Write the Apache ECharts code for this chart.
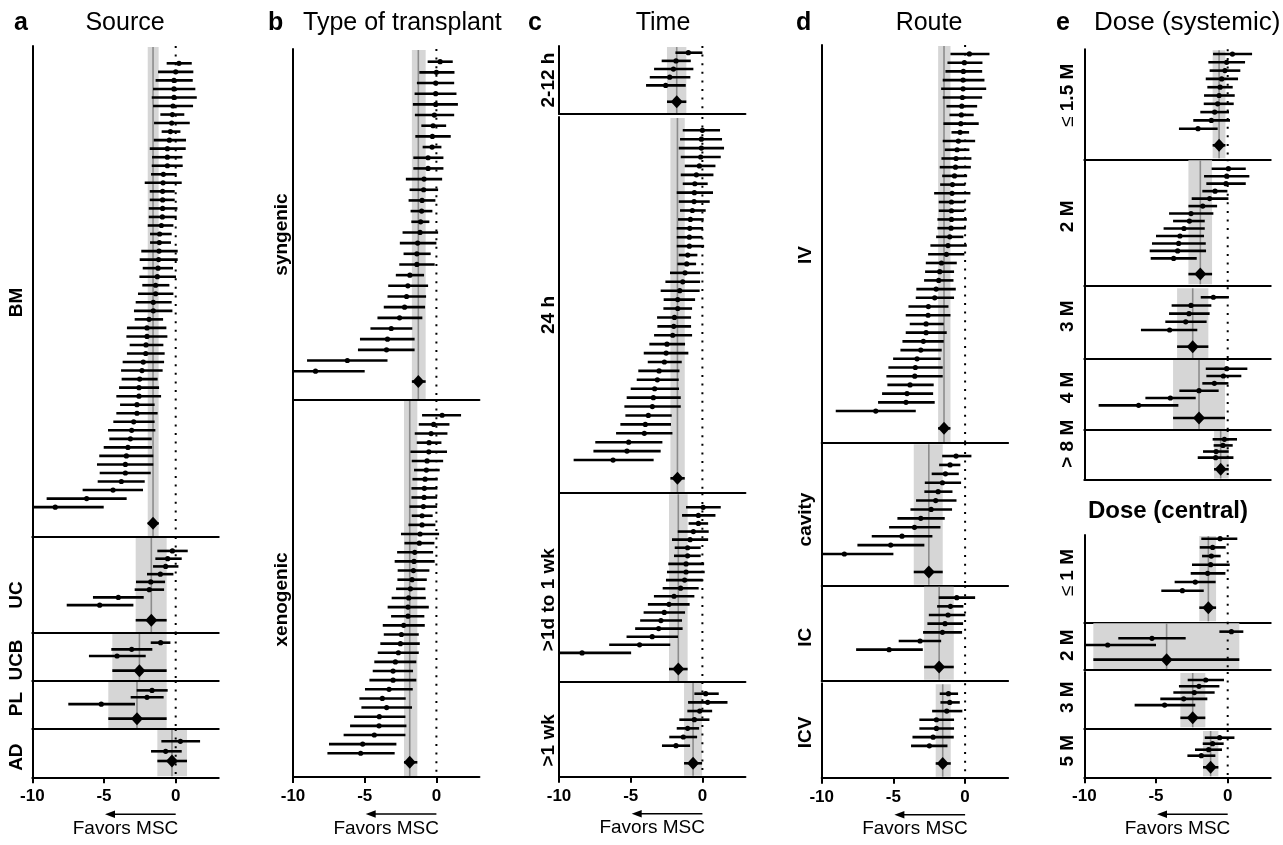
<!DOCTYPE html>
<html>
<head>
<meta charset="utf-8">
<script src="https://cdn.jsdelivr.net/npm/echarts@6/dist/echarts.min.js"></script>
<style>
  html, body { margin: 0; padding: 0; background: #fff; }
  #chart { width: 1283px; height: 845px; }
</style>
</head>
<body>
<div id="chart"></div>
<script>
// Effect sizes per study: [estimate, lower CI, upper CI]; pooled: [estimate, lower, upper]

// a — Source
const bmStudies = [
  [0.23, -0.63, 1.12], [0.00, -1.23, 1.23], [-0.12, -1.40, 1.19], [-0.12, -1.58, 1.37],
  [-0.12, -1.67, 1.47], [-0.19, -1.58, 1.21], [-0.23, -1.07, 0.60], [-0.28, -1.51, 0.98],
  [-0.37, -0.98, 0.33], [-0.44, -1.53, 0.72], [-0.58, -1.81, 0.70], [-0.58, -1.65, 0.47],
  [-0.58, -1.67, 0.49], [-0.86, -1.72, 0.07], [-0.88, -2.16, 0.42], [-0.91, -1.81, -0.07],
  [-0.91, -1.81, -0.07], [-0.91, -1.88, 0.12], [-0.93, -1.88, 0.07], [-1.00, -1.95, -0.16],
  [-1.12, -1.79, -0.28], [-1.14, -1.79, -0.33], [-1.16, -2.40, 0.14], [-1.19, -2.51, 0.14],
  [-1.23, -2.30, -0.19], [-1.28, -2.53, 0.02], [-1.40, -2.33, -0.44], [-1.40, -2.63, -0.16],
  [-1.56, -2.79, -0.28], [-1.56, -2.91, -0.23], [-1.86, -2.86, -0.88], [-2.00, -3.40, -0.65],
  [-2.00, -3.44, -0.58], [-2.07, -3.21, -0.86], [-2.09, -3.40, -0.77], [-2.26, -3.70, -0.81],
  [-2.35, -3.81, -0.91], [-2.51, -3.77, -1.26], [-2.56, -3.95, -1.16], [-2.56, -4.14, -1.02],
  [-2.70, -3.88, -1.47], [-2.70, -4.14, -1.26], [-2.93, -4.35, -1.47], [-3.07, -4.72, -1.42],
  [-3.16, -4.63, -1.67], [-3.33, -5.02, -1.65], [-3.44, -5.33, -1.56], [-3.51, -5.49, -1.56],
  [-3.51, -5.30, -1.74], [-3.79, -5.44, -2.16], [-4.37, -6.49, -2.28], [-6.21, -9.00, -3.42],
  [-8.40, -10.30, -5.02]
];
const bmPooled = [-1.58, -1.95, -1.19];
const ucStudies = [
  [-0.23, -1.28, 0.84], [-0.56, -1.42, 0.42], [-0.70, -1.58, 0.19], [-1.07, -2.00, -0.16],
  [-1.74, -2.77, -0.74], [-1.84, -2.86, -0.81], [-4.00, -5.77, -2.23], [-5.30, -7.60, -2.95]
];
const ucPooled = [-1.70, -2.79, -0.63];
const ucbStudies = [[-1.05, -1.74, -0.37], [-3.07, -4.49, -1.63], [-4.09, -6.05, -2.09]];
const ucbPooled = [-2.53, -4.42, -0.63];
const plStudies = [[-1.65, -2.72, -0.56], [-2.00, -3.14, -0.84], [-5.19, -7.49, -2.84]];
const plPooled = [-2.70, -4.70, -0.63];
const adStudies = [[0.33, -1.00, 1.70], [-0.70, -1.72, 0.42]];
const adPooled = [-0.26, -1.28, 0.79];

// b — Type of transplant
const syngenicStudies = [
  [0.26, -0.61, 1.14], [0.00, -1.19, 1.26], [-0.05, -1.36, 1.24], [-0.05, -1.52, 1.40],
  [-0.05, -1.64, 1.50], [-0.14, -1.50, 1.24], [-0.23, -1.05, 0.68], [-0.28, -1.47, 1.00],
  [-0.30, -0.96, 0.35], [-0.58, -1.61, 0.49], [-0.58, -1.61, 0.49], [-0.86, -2.13, 0.40],
  [-0.89, -1.87, 0.12], [-1.00, -1.94, -0.07], [-1.03, -1.80, -0.28], [-1.10, -1.75, -0.49],
  [-1.14, -2.36, 0.12], [-1.31, -2.55, 0.00], [-1.36, -2.29, -0.40], [-1.36, -2.59, -0.12],
  [-1.85, -2.83, -0.86], [-1.99, -3.36, -0.58], [-2.08, -3.41, -0.72], [-2.22, -3.67, -0.79],
  [-2.57, -4.11, -0.98], [-3.15, -4.60, -1.68], [-3.41, -5.33, -1.52], [-3.48, -5.47, -1.52],
  [-6.21, -9.02, -3.41], [-8.43, -10.30, -5.00]
];
const syngenicPooled = [-1.26, -1.71, -0.75];
const xenogenicStudies = [
  [0.40, -1.00, 1.72], [-0.19, -1.23, 0.91], [-0.37, -1.51, 0.77], [-0.51, -1.37, 0.35],
  [-0.53, -1.81, 0.74], [-0.65, -1.72, 0.47], [-0.70, -1.56, 0.23], [-0.79, -1.67, 0.09],
  [-0.84, -1.74, 0.07], [-0.86, -1.74, 0.05], [-0.91, -1.88, 0.05], [-1.00, -1.72, -0.26],
  [-1.00, -1.95, -0.07], [-1.14, -2.47, 0.19], [-1.19, -2.23, -0.14], [-1.51, -2.74, -0.23],
  [-1.56, -2.91, -0.12], [-1.60, -2.70, -0.49], [-1.70, -2.72, -0.67], [-1.81, -2.81, -0.77],
  [-1.93, -3.12, -0.74], [-1.98, -3.40, -0.53], [-1.98, -3.16, -0.84], [-2.28, -3.74, -0.81],
  [-2.44, -3.67, -1.23], [-2.51, -3.91, -1.16], [-2.65, -4.09, -1.23], [-2.86, -4.33, -1.40],
  [-3.02, -4.44, -1.63], [-3.02, -4.67, -1.40], [-3.30, -4.98, -1.65], [-3.77, -5.37, -2.14],
  [-3.47, -5.23, -1.70], [-3.98, -5.74, -2.16], [-4.00, -6.02, -2.09], [-4.33, -6.47, -2.16],
  [-5.14, -7.49, -2.79], [-5.28, -7.60, -2.91]
];
const xenogenicPooled = [-1.86, -2.26, -1.33];

// c — Time
const h2to12Studies = [
  [-0.98, -1.88, 0.00], [-1.84, -2.84, -0.81], [-2.02, -3.37, -0.63],
  [-2.28, -3.67, -0.84], [-2.56, -3.93, -1.16]
];
const h2to12Pooled = [-1.79, -2.47, -1.12];
const h24Studies = [
  [0.00, -1.37, 1.23], [-0.07, -1.56, 1.37], [-0.07, -1.65, 1.51], [-0.12, -1.51, 1.28],
  [-0.21, -1.23, 0.91], [-0.42, -1.51, 0.77], [-0.53, -1.37, 0.37], [-0.56, -1.79, 0.74],
  [-0.58, -1.65, 0.51], [-0.70, -1.56, 0.23], [-0.84, -1.70, 0.09], [-0.88, -1.79, 0.05],
  [-0.91, -1.79, 0.00], [-0.91, -1.79, 0.12], [-1.02, -1.65, -0.35], [-1.09, -1.74, -0.44],
  [-1.21, -2.26, -0.16], [-1.37, -2.58, -0.16], [-1.58, -2.91, -0.19], [-1.72, -2.70, -0.51],
  [-1.72, -2.72, -0.72], [-1.95, -3.16, -0.79], [-2.00, -3.14, -0.79], [-2.07, -3.37, -0.72],
  [-2.47, -3.70, -1.21], [-2.53, -4.09, -0.98], [-2.65, -3.81, -1.44], [-3.02, -4.47, -1.60],
  [-3.14, -4.58, -1.65], [-3.33, -5.00, -1.63], [-3.42, -5.28, -1.51], [-3.49, -5.44, -1.51],
  [-3.77, -5.37, -2.14], [-3.98, -5.72, -2.19], [-4.05, -6.02, -2.09], [-5.14, -7.47, -2.79],
  [-5.26, -7.60, -2.91], [-6.23, -8.98, -3.40]
];
const h24Pooled = [-1.74, -2.23, -1.23];
const d1toWk1Studies = [
  [0.05, -1.14, 1.28], [-0.28, -1.42, 0.91], [-0.28, -0.96, 0.40], [-0.63, -1.72, 0.44],
  [-0.86, -2.12, 0.40], [-1.03, -1.93, -0.12], [-1.03, -1.98, -0.12], [-1.14, -2.38, 0.12],
  [-1.14, -2.47, 0.16], [-1.24, -2.54, 0.02], [-1.52, -2.77, -0.26], [-1.98, -3.38, -0.56],
  [-2.33, -3.80, -0.89], [-2.66, -4.10, -1.21], [-2.89, -4.34, -1.42], [-3.05, -4.69, -1.38],
  [-3.50, -5.29, -1.70], [-4.38, -6.50, -2.24], [-8.39, -10.30, -4.97]
];
const d1toWk1Pooled = [-1.68, -2.33, -1.03];
const overWk1Studies = [
  [0.23, -0.56, 1.14], [0.37, -1.00, 1.75], [-0.19, -1.05, 0.68], [-0.56, -1.61, 0.49],
  [-1.03, -1.79, -0.23], [-1.33, -2.31, -0.37], [-1.84, -2.82, -0.86]
];
const overWk1Pooled = [-0.65, -1.28, -0.02];

// d — Route
const ivStudies = [
  [0.30, -1.02, 1.70], [-0.05, -1.23, 1.21], [-0.12, -1.37, 1.19], [-0.14, -1.56, 1.35],
  [-0.14, -1.67, 1.47], [-0.19, -1.56, 1.19], [-0.23, -1.30, 0.84], [-0.26, -1.09, 0.60],
  [-0.30, -1.51, 0.95], [-0.35, -0.95, 0.28], [-0.47, -1.56, 0.70], [-0.56, -1.42, 0.30],
  [-0.63, -1.65, 0.44], [-0.67, -1.77, 0.40], [-0.74, -1.60, 0.14], [-0.88, -1.74, 0.02],
  [-0.91, -2.16, 0.37], [-0.95, -1.84, 0.02], [-0.95, -1.84, -0.05], [-0.95, -1.93, 0.12],
  [-0.98, -1.93, 0.05], [-1.07, -2.02, -0.12], [-1.19, -2.42, 0.12], [-1.30, -2.58, -0.05],
  [-1.65, -2.74, -0.58], [-1.77, -2.79, -0.77], [-1.84, -2.86, -0.81], [-2.02, -3.40, -0.65],
  [-2.12, -3.44, -0.77], [-2.56, -3.95, -1.16], [-2.58, -4.14, -1.02], [-2.72, -3.86, -1.49],
  [-2.72, -4.14, -1.28], [-2.91, -4.37, -1.49], [-3.09, -4.51, -1.63], [-3.35, -5.02, -1.70],
  [-3.47, -5.35, -1.56], [-3.51, -5.49, -1.56], [-3.84, -5.42, -2.19], [-4.05, -5.79, -2.23],
  [-4.12, -6.07, -2.12], [-6.23, -9.02, -3.44]
];
const ivPooled = [-1.47, -1.88, -1.02];
const cavityStudies = [
  [-0.63, -1.60, 0.44], [-1.05, -1.81, -0.33], [-1.37, -2.33, -0.44], [-1.58, -2.81, -0.28],
  [-1.88, -2.84, -0.88], [-2.05, -3.42, -0.60], [-2.37, -3.81, -0.91], [-3.09, -4.72, -1.42],
  [-3.53, -5.30, -1.72], [-4.40, -6.51, -2.28], [-5.19, -7.51, -2.84], [-8.42, -10.30, -5.00]
];
const cavityPooled = [-2.53, -3.58, -1.56];
const icStudies = [
  [-0.58, -1.84, 0.70], [-1.02, -1.95, -0.12], [-1.19, -2.53, 0.02], [-1.40, -2.63, -0.14],
  [-1.58, -2.93, -0.21], [-3.14, -4.63, -1.67], [-5.30, -7.60, -2.95]
];
const icPooled = [-1.81, -2.86, -0.79];
const icvStudies = [
  [-1.16, -1.77, -0.49], [-1.07, -1.72, -0.37], [-1.28, -2.30, -0.19], [-2.00, -3.19, -0.77],
  [-2.00, -3.19, -0.77], [-2.23, -3.67, -0.79], [-2.49, -3.77, -1.23]
];
const icvPooled = [-1.56, -2.05, -1.00];

// e — Dose (systemic)
const sysUpTo15Studies = [
  [0.33, -1.02, 1.70], [-0.07, -1.35, 1.21], [-0.19, -1.26, 0.88], [-0.42, -1.53, 0.72],
  [-0.53, -1.42, 0.35], [-0.60, -1.65, 0.49], [-0.70, -1.67, 0.42], [-0.91, -1.91, 0.09],
  [-1.14, -2.40, 0.16], [-2.07, -3.40, -0.70]
];
const sysUpTo15Pooled = [-0.60, -1.05, -0.16];
const sys2Studies = [
  [0.05, -1.12, 1.26], [-0.07, -1.65, 1.51], [-0.12, -1.49, 1.26], [-0.88, -1.77, -0.02],
  [-1.26, -2.51, 0.05], [-1.74, -2.74, -0.74], [-2.56, -4.09, -1.00], [-2.67, -3.81, -1.60],
  [-3.05, -4.47, -1.60], [-3.33, -5.00, -1.65], [-3.42, -5.28, -1.53], [-3.49, -5.44, -1.51],
  [-3.77, -5.37, -2.16]
];
const sys2Pooled = [-1.91, -2.74, -1.09];
const sys3Studies = [
  [-1.00, -1.88, 0.07], [-2.56, -3.91, -1.14], [-2.70, -4.09, -1.26],
  [-2.93, -4.35, -1.47], [-4.05, -6.05, -2.12]
];
const sys3Pooled = [-2.44, -3.53, -1.35];
const sys4Studies = [
  [-0.07, -1.53, 1.37], [-0.30, -1.49, 0.95], [-0.93, -1.77, 0.05],
  [-2.00, -3.37, -0.63], [-4.00, -5.74, -2.23], [-6.21, -9.00, -3.44]
];
const sys4Pooled = [-2.00, -3.81, -0.19];
const sysOver8Studies = [[-0.23, -1.05, 0.65], [-0.33, -0.98, 0.35], [-0.81, -1.72, 0.07], [-0.84, -2.09, 0.40]];
const sysOver8Pooled = [-0.49, -0.95, 0.07];

// e — Dose (central)
const cenUpTo1Studies = [
  [-0.53, -1.84, 0.67], [-1.05, -1.95, -0.14], [-1.14, -1.79, -0.49], [-1.19, -2.49, 0.14],
  [-1.40, -2.58, -0.16], [-2.26, -3.70, -0.84], [-3.16, -4.63, -1.67]
];
const cenUpTo1Pooled = [-1.35, -1.98, -0.81];
const cen2Studies = [[0.26, -0.58, 1.09], [-5.28, -7.63, -2.93], [-8.37, -10.20, -5.00]];
const cen2Pooled = [-4.26, -9.37, 0.81];
const cen3Studies = [
  [-1.53, -2.79, -0.26], [-2.00, -3.40, -0.58], [-2.33, -3.79, -0.91],
  [-3.07, -4.70, -1.42], [-4.40, -6.49, -2.26]
];
const cen3Pooled = [-2.44, -3.30, -1.56];
const cen5Studies = [[-0.56, -1.60, 0.47], [-1.05, -1.74, -0.28], [-1.33, -2.28, -0.40], [-1.84, -2.81, -0.86]];
const cen5Pooled = [-1.19, -1.72, -0.65];

const xTicks = [-10, -5, 0];
const xAxisTitle = 'Favors MSC';

// ---- layout ----
const FONT = '"Liberation Sans", Arial, Helvetica, sans-serif';
const X_MIN = -10, X_MAX = 3, UNIT_PX = 14.34;
const BAND = '#d6d6d6';
const POOLED_LINE = '#8c8c8c';

// pad: [rows above first study, rows from last study to pooled diamond, rows from last study to bottom]
const panels = [
  { left: 32.3, nameGap: 6, groups: [
    { label: 'BM', studies: bmStudies, pooled: bmPooled, top: 46, bottom: 537, pad: [2.03, 1.9, 3.5], shift: 11 },
    { label: 'UC', studies: ucStudies, pooled: ucPooled, top: 537, bottom: 633, pad: [1.8, 1.95, 3.6], shift: 10 },
    { label: 'UCB', studies: ucbStudies, pooled: ucbPooled, top: 633, bottom: 681, pad: [1.45, 2.2, 3.75], shift: 3 },
    { label: 'PL', studies: plStudies, pooled: plPooled, top: 681, bottom: 729, pad: [1.36, 2.1, 3.6], shift: -1 },
    { label: 'AD', studies: adStudies, pooled: adPooled, top: 729, bottom: 777.3, pad: [1.23, 0.97, 2.6], shift: 4 }
  ]},
  { left: 293, nameGap: 2, groups: [
    { label: 'syngenic', studies: syngenicStudies, pooled: syngenicPooled, top: 49, bottom: 400, pad: [1.19, 0.97, 2.7], shift: 10 },
    { label: 'xenogenic', studies: xenogenicStudies, pooled: xenogenicPooled, top: 400, bottom: 777, pad: [1.67, 0.99, 2.6], shift: 11 }
  ]},
  { left: 559, nameGap: 1, groups: [
    { label: '2-12 h', studies: h2to12Studies, pooled: h2to12Pooled, top: 46, bottom: 114, pad: [0.82, 2.0, 3.5], shift: 0 },
    { label: '24 h', studies: h24Studies, pooled: h24Pooled, top: 117, bottom: 493, pad: [1.49, 2.05, 3.7], shift: 10 },
    { label: '>1d to 1 wk', studies: d1toWk1Studies, pooled: d1toWk1Pooled, top: 493.3, bottom: 682, pad: [1.73, 2.0, 3.6], shift: 12 },
    { label: '>1 wk', studies: overWk1Studies, pooled: overWk1Pooled, top: 682, bottom: 776.7, pad: [1.35, 2.03, 3.58], shift: 11 }
  ]},
  { left: 821.7, nameGap: 6, groups: [
    { label: 'IV', studies: ivStudies, pooled: ivPooled, top: 45, bottom: 443, pad: [1.03, 1.99, 3.67], shift: 11 },
    { label: 'cavity', studies: cavityStudies, pooled: cavityPooled, top: 443.3, bottom: 585.7, pad: [1.43, 2.02, 3.56], shift: 5 },
    { label: 'IC', studies: icStudies, pooled: icPooled, top: 585.7, bottom: 680.7, pad: [1.38, 2.0, 3.58], shift: 4 },
    { label: 'ICV', studies: icvStudies, pooled: icvPooled, top: 683.3, bottom: 777.7, pad: [1.2, 2.03, 3.67], shift: 2 }
  ]},
  { left: 1084.3, nameGap: 7, groups: [
    { label: '≤ 1.5 M', studies: sysUpTo15Studies, pooled: sysUpTo15Pooled, top: 49.3, bottom: 159.3, pad: [0.57, 2.0, 3.69], shift: -9 },
    { label: '2 M', studies: sys2Studies, pooled: sys2Pooled, top: 159.3, bottom: 285.3, pad: [1.26, 2.1, 3.6], shift: -6 },
    { label: '3 M', studies: sys3Studies, pooled: sys3Pooled, top: 287.3, bottom: 359, pad: [1.22, 2.04, 3.55], shift: -7 },
    { label: '4 M', studies: sys4Studies, pooled: sys4Pooled, top: 359, bottom: 430, pad: [1.32, 1.73, 3.36], shift: -7 },
    { label: '> 8 M', studies: sysOver8Studies, pooled: sysOver8Pooled, top: 430, bottom: 479.5, pad: [1.52, 1.9, 3.57], shift: -11 },
    { label: '≤ 1 M', studies: cenUpTo1Studies, pooled: cenUpTo1Pooled, top: 535, bottom: 622.3, pad: [0.43, 1.96, 3.65], shift: -6 },
    { label: '2 M', studies: cen2Studies, pooled: cen2Pooled, top: 622.3, bottom: 670, pad: [1.4, 2.2, 3.75], shift: -1 },
    { label: '3 M', studies: cen3Studies, pooled: cen3Pooled, top: 672, bottom: 728.3, pad: [1.28, 2.03, 3.7], shift: -3 },
    { label: '5 M', studies: cen5Studies, pooled: cen5Pooled, top: 730, bottom: 777.3, pad: [1.28, 1.93, 3.6], shift: -3 }
  ]}
];

const headings = [
  { text: 'a', x: 14, bold: true, size: 25 },
  { text: 'Source', x: 125, align: 'center', size: 25 },
  { text: 'b', x: 268, bold: true, size: 25 },
  { text: 'Type of transplant', x: 303, size: 25 },
  { text: 'c', x: 528, bold: true, size: 25 },
  { text: 'Time', x: 663, align: 'center', size: 25 },
  { text: 'd', x: 796, bold: true, size: 25 },
  { text: 'Route', x: 929, align: 'center', size: 25 },
  { text: 'e', x: 1056, bold: true, size: 25 },
  { text: 'Dose (systemic)', x: 1094, size: 26 },
  { text: 'Dose (central)', x: 1168, align: 'center', bold: true, size: 24, baseline: 520 }
];

// ---- drawing ----
function renderStudy(params, api) {
  const row = api.value(3);
  const pE = api.coord([api.value(0), row]);
  const pL = api.coord([Math.max(api.value(1), X_MIN), row]);
  const pH = api.coord([Math.min(api.value(2), X_MAX), row]);
  return {
    type: 'group',
    children: [
      { type: 'line', shape: { x1: pL[0], y1: pE[1], x2: pH[0], y2: pE[1] }, style: { stroke: '#000', lineWidth: 2.6 } },
      { type: 'circle', shape: { cx: pE[0], cy: pE[1], r: 2.6 }, style: { fill: '#000' } }
    ]
  };
}

function renderPooled(params, api) {
  const cs = params.coordSys;
  const row = api.value(3);
  const pE = api.coord([api.value(0), row]);
  const pL = api.coord([api.value(1), row]);
  const pH = api.coord([api.value(2), row]);
  const p0 = api.coord([0, row]);
  const top = cs.y + 1, bot = cs.y + cs.height - 1;
  const hw = 6, hh = 6.5;
  return {
    type: 'group',
    children: [
      { type: 'rect', shape: { x: pL[0], y: top, width: pH[0] - pL[0], height: bot - top }, style: { fill: BAND } },
      { type: 'line', shape: { x1: pE[0], y1: top, x2: pE[0], y2: bot }, style: { stroke: POOLED_LINE, lineWidth: 1.6 } },
      { type: 'line', shape: { x1: p0[0], y1: cs.y, x2: p0[0], y2: bot }, style: { stroke: '#000', lineWidth: 2, lineDash: [2, 6.6] } },
      { type: 'line', shape: { x1: pL[0], y1: pE[1], x2: pH[0], y2: pE[1] }, style: { stroke: '#000', lineWidth: 2.6 } },
      { type: 'polygon', shape: { points: [[pE[0] - hw, pE[1]], [pE[0], pE[1] - hh], [pE[0] + hw, pE[1]], [pE[0], pE[1] + hh]] }, style: { fill: '#000' } }
    ]
  };
}

const grids = [], xAxes = [], yAxes = [], series = [];
const bottomAxes = [];

panels.forEach(panel => {
  panel.groups.forEach((g, gi) => {
    const k = grids.length;
    const isLast = gi === panel.groups.length - 1;
    const n = g.studies.length;
    grids.push({ left: panel.left, top: g.top, width: (X_MAX - X_MIN) * UNIT_PX, height: g.bottom - g.top });

    xAxes.push({
      gridIndex: k, type: 'value', min: X_MIN, max: X_MAX, interval: 5, position: 'bottom',
      axisLine: { show: true, onZero: false, lineStyle: { color: '#000', width: 2 } },
      axisTick: { show: isLast, customValues: xTicks, length: 6, lineStyle: { color: '#000', width: 2 } },
      axisLabel: {
        show: isLast, customValues: xTicks, margin: 11,
        color: '#000', fontSize: 17, fontWeight: 'bold', fontFamily: FONT
      },
      splitLine: { show: false },
      name: isLast ? xAxisTitle : '', nameLocation: 'middle', nameGap: 42,
      nameTextStyle: { color: '#000', fontSize: 19, fontFamily: FONT }
    });

    const s = g.shift;
    const pad = s >= 0 ? [0, 2 * s, 0, 0] : [0, 0, 0, -2 * s];
    const isLe = g.label.startsWith('≤');
    yAxes.push({
      gridIndex: k, type: 'value', inverse: true,
      min: 1 - g.pad[0], max: n + g.pad[2],
      axisLine: { show: true, onZero: false, lineStyle: { color: '#000', width: 2 } },
      axisTick: { show: false }, axisLabel: { show: false }, splitLine: { show: false },
      name: isLe ? '{le|≤}' + g.label.slice(1) : g.label,
      nameLocation: 'middle', nameGap: panel.nameGap,
      nameTextStyle: {
        color: '#000', fontSize: 19, fontWeight: 'bold', fontFamily: FONT, padding: pad,
        rich: { le: { fontSize: 19, fontWeight: 'normal', fontFamily: FONT, color: '#000' } }
      }
    });

    series.push({
      type: 'custom', xAxisIndex: k, yAxisIndex: k, z: 1, silent: true, animation: false,
      renderItem: renderPooled,
      encode: { x: [0, 1, 2], y: 3 },
      data: [[g.pooled[0], g.pooled[1], g.pooled[2], n + g.pad[1]]]
    });
    series.push({
      type: 'custom', xAxisIndex: k, yAxisIndex: k, z: 3, silent: true, animation: false,
      renderItem: renderStudy,
      encode: { x: [0, 1, 2], y: 3 },
      data: g.studies.map((d, i) => [d[0], d[1], d[2], i + 1])
    });

    if (isLast) bottomAxes.push({ k, max: n + g.pad[2] });
  });
});

const chart = echarts.init(document.getElementById('chart'), null, { renderer: 'canvas' });
chart.setOption({
  animation: false,
  backgroundColor: '#fff',
  textStyle: { fontFamily: FONT },
  grid: grids,
  xAxis: xAxes,
  yAxis: yAxes,
  series: series
});

// headings and "favors" arrows
const graphics = headings.map(h => ({
  type: 'text',
  style: {
    text: h.text, x: h.x, y: (h.baseline || 32) - 0.36 * h.size,
    fill: '#000', font: (h.bold ? 'bold ' : '') + h.size + 'px ' + FONT,
    textAlign: h.align || 'left', textVerticalAlign: 'middle'
  }
}));

bottomAxes.forEach(b => {
  const from = chart.convertToPixel({ xAxisIndex: b.k, yAxisIndex: b.k }, [0, b.max]);
  const to = chart.convertToPixel({ xAxisIndex: b.k, yAxisIndex: b.k }, [-4.93, b.max]);
  const y = from[1] + 37;
  graphics.push({
    type: 'line',
    shape: { x1: from[0], y1: y, x2: to[0] + 9, y2: y },
    style: { stroke: '#000', lineWidth: 1.5 }
  });
  graphics.push({
    type: 'polygon',
    shape: { points: [[to[0], y], [to[0] + 10, y - 3.8], [to[0] + 10, y + 3.8]] },
    style: { fill: '#000' }
  });
});

chart.setOption({ graphic: graphics });
</script>
</body>
</html>
